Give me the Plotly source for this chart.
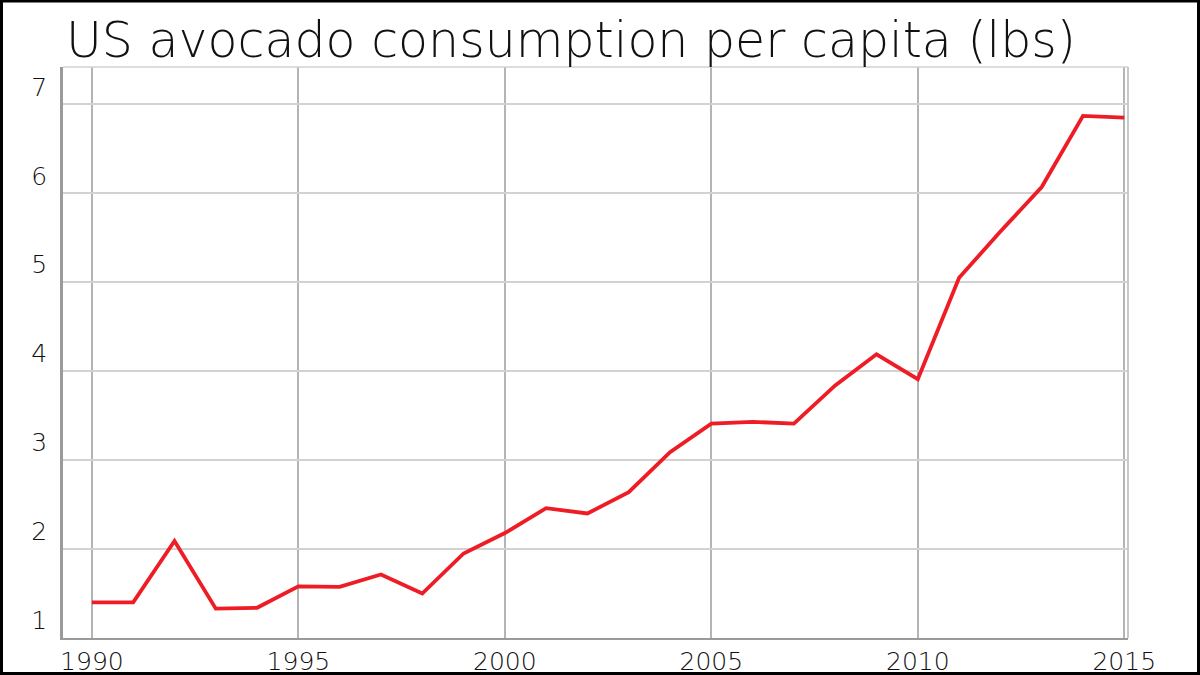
import plotly.graph_objects as go

years = list(range(1990, 2016))
lbs = [1.40, 1.40, 2.09, 1.33, 1.34, 1.58, 1.575, 1.715, 1.50, 1.95,
       2.18, 2.46, 2.40, 2.64, 3.09, 3.41, 3.43, 3.41, 3.84, 4.19,
       3.91, 5.05, 5.57, 6.07, 6.87, 6.85]
x_ticks = [1990, 1995, 2000, 2005, 2010, 2015]
y_ticks = [1, 2, 3, 4, 5, 6, 7]
title_text = "US avocado consumption per capita (lbs)"

W, H = 1200, 675
L, R, T, B = 63, 72, 67, 37
pw, ph = W - L - R, H - T - B

FONT = "DejaVu Sans"
TXT = "#111111"

fig = go.Figure()
fig.add_trace(go.Scatter(
    x=years, y=lbs, mode="lines",
    line=dict(color="#ee1c25", width=3.8),
    hoverinfo="x+y", showlegend=False,
))

fig.update_layout(
    width=W, height=H,
    margin=dict(l=L, r=R, t=T, b=B, pad=0, autoexpand=False),
    paper_bgcolor="white", plot_bgcolor="white",
    font=dict(family=FONT, color=TXT),
    xaxis=dict(
        range=[1989.30, 2015.09], tickmode="array", tickvals=x_ticks,
        ticktext=[str(v) for v in x_ticks],
        showgrid=True, gridcolor="#b4b4b4", gridwidth=2,
        showline=True, linecolor="#9a9a9a", linewidth=2,
        ticks="", tickfont=dict(size=25, family=FONT, color=TXT, weight=200),
        zeroline=False, ticklabelstandoff=0,
    ),
    yaxis=dict(
        range=[1, 7.42], tickmode="array", tickvals=y_ticks,
        ticktext=[str(v) for v in y_ticks],
        showgrid=True, gridcolor="#d2d2d2", gridwidth=1.5,
        showline=True, linecolor="#9a9a9a", linewidth=2.5,
        ticks="", tickfont=dict(size=25, family=FONT, color=TXT, weight=200),
        zeroline=False, ticklabelposition="outside top", ticklabelstandoff=8,
    ),
)

# top and right plot frame
fig.add_shape(type="line", xref="paper", yref="paper", x0=0, x1=1, y0=1, y1=1,
              line=dict(color="#d2d2d2", width=1.5))
fig.add_shape(type="line", xref="paper", yref="paper", x0=1, x1=1, y0=0, y1=1,
              line=dict(color="#c8c8c8", width=2))

# black outer border of image
fig.add_shape(type="rect", xref="paper", yref="paper",
              x0=(1.5 - L) / pw, x1=(W - 1.5 - L) / pw,
              y0=-(H - 1.5 - T - ph) / ph, y1=1 + (T - 1.0) / ph,
              line=dict(color="black", width=3), fillcolor="rgba(0,0,0,0)")

fig.add_annotation(
    text=title_text, xref="paper", yref="paper",
    x=(64 - L) / pw, y=1 + (T - 40.5) / ph, xanchor="left", yanchor="middle",
    showarrow=False, font=dict(size=49, family=FONT, color="#111111", weight=200),
)

fig.write_html("out.html", config={"displayModeBar": False},
               post_script="document.body.style.margin='0';document.body.style.overflow='hidden';")
